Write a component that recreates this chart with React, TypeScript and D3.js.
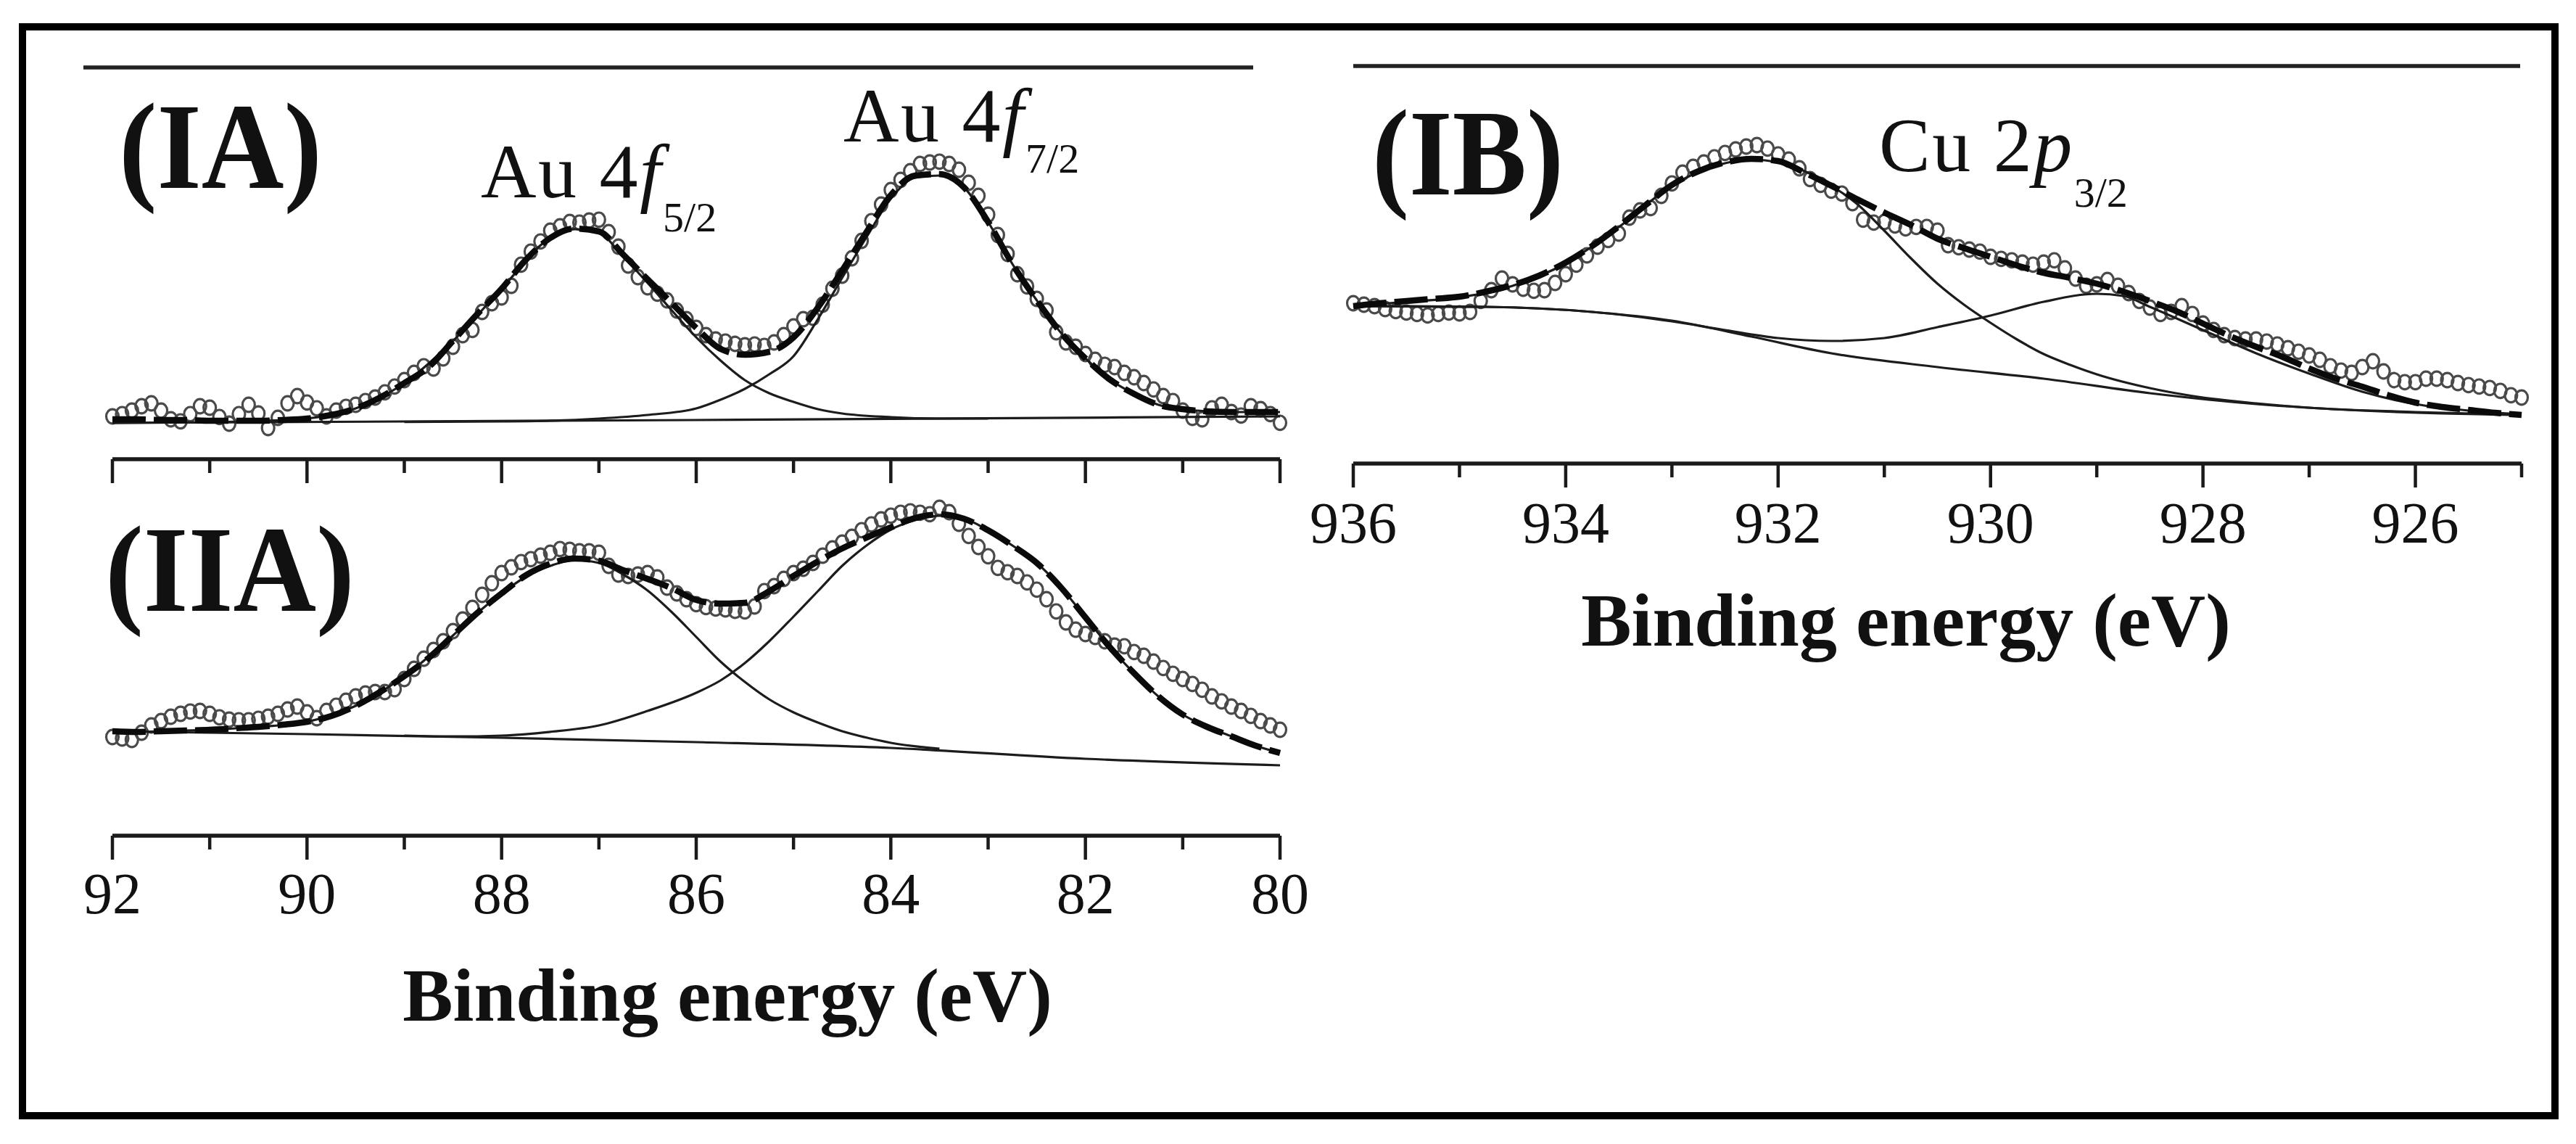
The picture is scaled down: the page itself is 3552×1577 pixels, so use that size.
import * as d3 from "d3";

// ---- data (intensity in arbitrary units, 0-100) ----

// measured points are recorded every 0.1 eV
const AU_START = 92;
const CU_START = 936;
const STEP = 0.1;

// (IA) Au 4f, 92.0 -> 80.0 eV
const iaPoints = [
  6.5, 7.3, 8.5, 10.0, 11.0, 8.5, 5.5, 4.8, 7.3, 10.0,
  9.5, 6.3, 4.0, 7.3, 10.5, 7.5, 2.5, 6.0, 11.0, 13.5,
  11.3, 9.3, 6.5, 8.5, 9.8, 10.5, 11.8, 13.0, 14.8, 16.8,
  19.0, 21.5, 23.8, 23.0, 26.5, 30.5, 34.5, 36.3, 42.5, 45.5,
  47.5, 51.5, 58.8, 63.3, 66.8, 70.5, 72.0, 73.5, 73.3, 74.0,
  74.3, 70.0, 65.0, 58.5, 54.5, 51.0, 48.8, 46.5, 43.0, 40.0,
  37.0, 34.5, 33.0, 32.3, 31.5, 31.0, 31.3, 30.8, 32.0, 34.5,
  37.5, 40.0, 40.5, 45.0, 50.5, 55.0, 61.0, 67.0, 73.8, 79.5,
  84.5, 88.0, 91.0, 93.5, 94.0, 94.3, 93.5, 91.5, 87.0, 82.5,
  76.0, 69.0, 62.5, 55.5, 51.3, 47.0, 43.0, 35.5, 32.0, 30.5,
  28.0, 26.0, 24.3, 23.5, 21.5, 20.0, 18.0, 15.8, 13.5, 11.8,
  8.5, 6.0, 5.5, 9.3, 10.5, 8.0, 6.8, 10.0, 9.0, 7.3,
  4.3,
];
const iaFit: [number, number][] = [
  [92, 5.5], [91.75, 5.5], [91.5, 5.25], [91.25, 5.25], [91, 5], [90.75, 5], [90.5, 5],
  [90.25, 5.25], [90, 5.75], [89.75, 7], [89.5, 9.25], [89.25, 13], [89, 18], [88.75, 23.5],
  [88.5, 32.5], [88.25, 41.75], [88, 50.5], [87.75, 60.5], [87.5, 68], [87.25, 71.25],
  [87, 70.25], [86.75, 62.25], [86.5, 53.75], [86.25, 45.5], [86, 37], [85.75, 29.75],
  [85.5, 27.75], [85.25, 28.75], [85, 33.75], [84.75, 44], [84.5, 56.75], [84.25, 70],
  [84, 82.75], [83.75, 89.5], [83.5, 90], [83.25, 85.5], [83, 73.5], [82.75, 59],
  [82.5, 46.5], [82.25, 35.25], [82, 26.5], [81.75, 19.25], [81.5, 14.25], [81.25, 10.5],
  [81, 9], [80.75, 8.25], [80.5, 8], [80.25, 8], [80, 8],
];
const iaBackground: [number, number][] = [[92, 4.25], [86, 5.25], [80, 6.5]];
const iaPeak52: [number, number][] = [
  [92, 4.25], [91, 4.5], [90.5, 4.9], [90, 5.75], [89.5, 9.25], [89, 18], [88.5, 32.5],
  [88, 50.5], [87.5, 68], [87.25, 71], [87, 69.75], [86.75, 61.5], [86.5, 52.5], [86.25, 43],
  [86, 33.75], [85.75, 25.75], [85.5, 19], [85.25, 14.5], [85, 11.5], [84.75, 9], [84.5, 7.5],
  [84, 6.25], [83.5, 5.75], [83, 5.75],
];
const iaPeak72: [number, number][] = [
  [89, 4.6], [88, 4.75], [87.5, 5], [87, 5.75], [86.5, 7], [86, 9.25], [85.75, 12.25],
  [85.5, 16], [85.25, 21], [85, 27.25], [84.75, 40], [84.5, 54.25], [84.25, 68.25],
  [84, 81.5], [83.75, 88.75], [83.5, 89.5], [83.25, 85.5], [83, 73.5], [82.75, 59],
  [82.5, 46.5], [82.25, 35.25], [82, 26.5], [81.75, 19.25], [81.5, 14.25], [81.25, 10.5],
  [81, 9], [80.75, 8.25], [80.5, 8], [80, 8],
];

// (IIA) Au 4f, 92.0 -> 80.0 eV
const iiaPoints = [
  16, 15.5, 15, 17.5, 20, 21.5, 23, 24, 24.8, 25,
  24, 22.8, 22, 21.8, 21.8, 22.3, 23, 24, 25.5, 26.5,
  24.5, 22.5, 25, 26.8, 28.5, 30, 31, 31.5, 31.5, 32.5,
  36, 39.5, 43, 46, 49, 52.5, 56.5, 60.5, 65, 69,
  72.5, 74.5, 76.3, 77.3, 78.5, 79.5, 80.8, 80.5, 80, 80,
  79.5, 75, 72, 71.5, 72, 72.5, 71, 67.5, 65.5, 63.5,
  61.8, 60.8, 60.3, 60, 59.5, 59.3, 61, 66.3, 68, 70.5,
  72.5, 74, 76, 78.5, 81, 83, 85, 87.3, 89.3, 91,
  92.3, 93.3, 93.8, 93.3, 92.8, 95, 93.5, 89.5, 85.3, 81.5,
  78.3, 74.3, 72.8, 71.5, 69.3, 66.8, 63.5, 59.3, 55.5, 53,
  51.5, 50.5, 49, 47.5, 47.3, 45.3, 44, 42, 39.8, 37.8,
  36, 34.3, 32.3, 30, 28.3, 26.5, 25, 23.3, 21.5, 20,
  18.5,
];
const iiaFit: [number, number][] = [
  [92, 18], [91.75, 17.75], [91.5, 18], [91.25, 18.25], [91, 18.5], [90.75, 19], [90.5, 19.5],
  [90.25, 20.25], [90, 21.25], [89.75, 23.25], [89.5, 26.75], [89.25, 31.5], [89, 37],
  [88.75, 43.25], [88.5, 51], [88.25, 58.75], [88, 65.5], [87.75, 71.75], [87.5, 75.75],
  [87.25, 77.5], [87, 76.75], [86.75, 73.5], [86.5, 70.5], [86.25, 67.25], [86, 63.25],
  [85.75, 62], [85.5, 62.25], [85.25, 66.25], [85, 71.5], [84.75, 76.5], [84.5, 81],
  [84.25, 84.75], [84, 88.25], [83.75, 91.5], [83.5, 92.75], [83.25, 91.25], [83, 87.25],
  [82.75, 82], [82.5, 76], [82.25, 67.5], [82, 57.25], [81.75, 47], [81.5, 38], [81.25, 30],
  [81, 23.75], [80.75, 19.5], [80.5, 16.25], [80.25, 13], [80, 10.5],
];
const iiaBackground: [number, number][] = [
  [92, 18], [90, 17], [88, 15.75], [86, 14.25], [84, 12.25], [82, 8.5], [80, 6.25],
];
const iiaPeak52: [number, number][] = [
  [92, 17.5], [91.5, 18], [91, 18.5], [90.5, 19.5], [90, 21.25], [89.5, 26.75], [89, 37],
  [88.5, 51], [88.25, 58.75], [88, 65.5], [87.75, 71.25], [87.5, 75], [87.25, 77], [87, 76],
  [86.75, 72], [86.5, 66.5], [86.25, 59], [86, 50.5], [85.75, 42], [85.5, 35],
  [85.25, 29], [85, 24.5], [84.75, 21], [84.5, 18], [84.25, 15.8], [84, 14],
  [83.5, 12],
];
const iiaPeak72: [number, number][] = [
  [89, 16.5], [88.5, 16.2], [88, 16.5], [87.5, 17.8], [87, 20], [86.5, 25], [86, 31.25],
  [85.75, 35.5], [85.5, 41.5], [85.25, 49], [85, 57.5], [84.75, 66.25], [84.5, 75],
  [84.25, 82], [84, 87.5], [83.75, 90.75], [83.5, 92.25], [83.25, 91.25], [83, 87.25],
  [82.75, 82], [82.5, 76], [82.25, 67.5], [82, 57.25], [81.75, 47], [81.5, 38], [81.25, 30],
  [81, 23.75], [80.75, 19.5], [80.5, 16.25], [80.25, 13], [80, 10.5],
];

// (IB) Cu 2p3/2, 936.0 -> 925.0 eV
const ibPoints = [
  45.5, 45, 44.5, 43.5, 42.8, 42.3, 41.8, 41.3, 41.8, 42.3,
  42, 42.5, 46.3, 50, 54, 52, 50.5, 49.8, 50, 52.5,
  55.5, 58.8, 62, 65, 67.3, 69.5, 75, 77.5, 78.3, 82.5,
  86.8, 90.5, 92.5, 94, 95.8, 97.3, 98.5, 99.5, 100, 98.8,
  96.8, 95, 92, 88.3, 86.3, 84.3, 83.3, 80, 74.3, 73.3,
  73.5, 72.3, 71.3, 71.8, 71.8, 70.5, 65.5, 64.8, 64, 63.3,
  61.5, 60.8, 60.3, 59.5, 58.8, 59.5, 60.3, 57.5, 54, 51.5,
  52, 53.5, 51.5, 49, 46.3, 44, 41.8, 42.5, 44.5, 41.8,
  38.5, 36.3, 34.5, 33.5, 33, 33, 32.3, 31.3, 30, 28.8,
  27.5, 26, 23.8, 22.3, 21.5, 23.5, 25.5, 22, 19, 18.3,
  18.3, 19.5, 19.5, 19, 18, 17.3, 16.8, 16.3, 15.3, 13.8,
  13,
];
const ibFit: [number, number][] = [
  [936, 44.5], [935.75, 45.5], [935.5, 46.25], [935.25, 47], [935, 47.75], [934.75, 49.5],
  [934.5, 51.75], [934.25, 55], [934, 59.5], [933.75, 65.25], [933.5, 72], [933.25, 79.25],
  [933, 86.25], [932.75, 91], [932.5, 94], [932.25, 95.25], [932, 94.5], [931.75, 90.5],
  [931.5, 86], [931.25, 81.25], [931, 76.75], [930.75, 72.5], [930.5, 67.75], [930.25, 64.5],
  [930, 61.5], [929.75, 58.5], [929.5, 56], [929.25, 54.25], [929, 52.25], [928.75, 49.5],
  [928.5, 46.25], [928.25, 42.75], [928, 38.5], [927.75, 34.25], [927.5, 30.5], [927.25, 27],
  [927, 23], [926.75, 19.5], [926.5, 16.75], [926.25, 13.75], [926, 11.25], [925.75, 9.75],
  [925.5, 8.75], [925.25, 7.75], [925, 7],
];
const ibBackground: [number, number][] = [
  [936, 44.5], [934.75, 44.25], [933.75, 42.5], [933, 39.5], [932.25, 34], [931.5, 28.25],
  [930.5, 23.5], [929.5, 19.5], [928.5, 14.5], [927.5, 10.75], [926.5, 8.5], [925.75, 7.5],
  [925, 7],
];
const ibMain: [number, number][] = [
  [936, 44.5], [935.5, 46], [935, 47.5], [934.5, 51.5], [934, 59.25], [933.5, 71.75],
  [933, 86], [932.75, 90.75], [932.5, 93.75], [932.25, 95], [932, 94], [931.75, 91],
  [931.5, 86], [931.25, 79.5], [931, 70.5], [930.75, 61], [930.5, 52.25], [930.25, 45],
  [930, 38.75], [929.75, 33], [929.5, 28], [929.25, 24.25], [929, 21], [928.5, 16.25],
  [928, 13], [927.5, 11], [927, 9.5], [926, 8], [925, 7],
];
const ibShoulder: [number, number][] = [
  [936, 44.5], [934.75, 44.25], [933.75, 42.5], [933, 39.25], [932.5, 36.25], [932, 33.5],
  [931.5, 32.5], [931, 33.5], [930.5, 37.25], [930, 41.25], [929.5, 46], [929, 48.75],
  [928.75, 48], [928.5, 44.25], [928, 36.25], [927.5, 28.25], [927, 21.25], [926.5, 15],
  [926, 10.75], [925.5, 8.5], [925, 7.25],
];

// ---- layout ----
const W = 3552;
const H = 1577;
const serif = "'Liberation Serif', 'Times New Roman', serif";
const ink = "#111";

const xAu = d3.scaleLinear().domain([92, 80]).range([155, 1765]);
const xCu = d3.scaleLinear().domain([936, 925]).range([1866, 3477]);
const yIA = d3.scaleLinear().domain([0, 100]).range([600, 200]);
const yIIA = d3.scaleLinear().domain([0, 100]).range([1080, 680]);
const yIB = d3.scaleLinear().domain([0, 100]).range([600, 200]);

type Scale = d3.ScaleLinear<number, number>;

function Curve({ pts, x, y, fit }: { pts: [number, number][]; x: Scale; y: Scale; fit?: boolean }) {
  const line = d3.line<[number, number]>()
    .x(d => x(d[0]))
    .y(d => y(d[1]))
    .curve(d3.curveMonotoneX);
  return (
    <path
      d={line(pts) ?? ""}
      fill="none"
      stroke={fit ? "#0a0a0a" : "#1c1c1c"}
      strokeWidth={fit ? 8.5 : 3.2}
      strokeDasharray={fit ? "46 11" : undefined}
      strokeLinejoin="round"
    />
  );
}

function Spectrum({ x, y, start, points, fit, comps }: {
  x: Scale; y: Scale; start: number; points: number[];
  fit: [number, number][]; comps: [number, number][][];
}) {
  return (
    <g>
      {points.map((v, i) => (
        <ellipse key={i} cx={x(start - i * STEP)} cy={y(v)} rx={8.5} ry={9.8}
          fill="none" stroke="#4a4a4a" strokeWidth={3.2} />
      ))}
      {comps.map((c, i) => <Curve key={i} pts={c} x={x} y={y} />)}
      <Curve pts={fit} x={x} y={y} fit />
    </g>
  );
}

function Axis({ x, y0, labelY }: { x: Scale; y0: number; labelY?: number }) {
  const [a, b] = x.range();
  const span = Math.abs(x.domain()[0] - x.domain()[1]);
  const ticks = x.ticks(span);
  return (
    <g>
      <line x1={a} x2={b} y1={y0} y2={y0} stroke="#1a1a1a" strokeWidth={5.5} />
      {ticks.map(t => {
        const major = Math.round(t) % 2 === 0;
        return (
          <g key={t}>
            <line x1={x(t)} x2={x(t)} y1={y0} y2={y0 + (major ? 33 : 19)} stroke="#1a1a1a" strokeWidth={4.5} />
            {labelY !== undefined && major && (
              <text x={x(t)} y={labelY} textAnchor="middle" fontFamily={serif} fontSize={80} fill={ink}>{t}</text>
            )}
          </g>
        );
      })}
    </g>
  );
}

function PeakLabel({ x, y, main, ital, sub, dy }: { x: number; y: number; main: string; ital: string; sub: string; dy: number }) {
  return (
    <text x={x} y={y} fontFamily={serif} fontSize={106} fill={ink} letterSpacing={2.5}>
      {main}
      <tspan fontStyle="italic">{ital}</tspan>
      <tspan fontSize={58} dy={dy} letterSpacing={0}>{sub}</tspan>
    </text>
  );
}

function PanelTag({ x, y, len, label }: { x: number; y: number; len: number; label: string }) {
  return (
    <text x={x} y={y} fontFamily={serif} fontWeight="bold" fontSize={170} fill={ink}
      textLength={len} lengthAdjust="spacingAndGlyphs">{label}</text>
  );
}

export default function App() {
  return (
    <div style={{ position: "absolute", left: 0, top: 0, width: W, height: H, background: "#fff" }}>
      <svg width={W} height={H} style={{ display: "block" }}>
        <rect x={0} y={0} width={W} height={H} fill="#fff" />
        <rect x={31} y={37} width={3492} height={1501} fill="none" stroke="#000" strokeWidth={10} />

        {/* top rules */}
        <line x1={115} x2={1728} y1={93} y2={93} stroke="#222" strokeWidth={5.5} />
        <line x1={1866} x2={3475} y1={91} y2={91} stroke="#222" strokeWidth={5.5} />

        {/* (IA) */}
        <Spectrum x={xAu} y={yIA} start={AU_START} points={iaPoints} fit={iaFit}
          comps={[iaBackground, iaPeak52, iaPeak72]} />
        <Axis x={xAu} y0={633} />
        <PanelTag x={164} y={259} len={280} label="(IA)" />
        <PeakLabel x={663} y={272} main="Au 4" ital="f" sub="5/2" dy={47} />
        <PeakLabel x={1163} y={195} main="Au 4" ital="f" sub="7/2" dy={43} />

        {/* (IIA) */}
        <Spectrum x={xAu} y={yIIA} start={AU_START} points={iiaPoints} fit={iiaFit}
          comps={[iiaBackground, iiaPeak52, iiaPeak72]} />
        <Axis x={xAu} y0={1152} labelY={1259} />
        <PanelTag x={145} y={842} len={344} label="(IIA)" />
        <text x={1003} y={1407} textAnchor="middle" fontFamily={serif} fontWeight="bold" fontSize={104} fill={ink}>
          Binding energy (eV)
        </text>

        {/* (IB) */}
        <Spectrum x={xCu} y={yIB} start={CU_START} points={ibPoints} fit={ibFit}
          comps={[ibBackground, ibMain, ibShoulder]} />
        <Axis x={xCu} y0={639} labelY={748} />
        <PanelTag x={1892} y={268} len={264} label="(IB)" />
        <PeakLabel x={2591} y={236} main="Cu 2" ital="p" sub="3/2" dy={49} />
        <text x={2628} y={890} textAnchor="middle" fontFamily={serif} fontWeight="bold" fontSize={104} fill={ink}>
          Binding energy (eV)
        </text>
      </svg>
    </div>
  );
}
